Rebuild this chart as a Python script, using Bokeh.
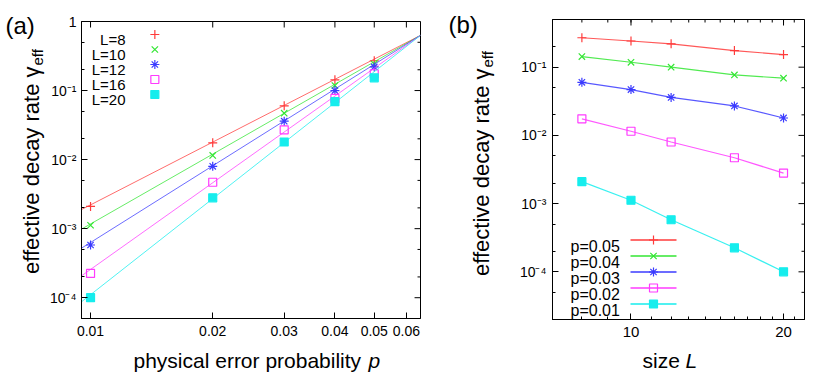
import numpy as np
from bokeh.plotting import figure
from bokeh.models import FixedTicker, Label, Range1d
from bokeh.layouts import row, column
from bokeh.embed import file_html
from bokeh.resources import INLINE

# ---------------- data ----------------
p_values = [0.01, 0.02, 0.03, 0.04, 0.05]
sizes = [8, 10, 12, 16, 20]
# effective decay rate for each system size L, at p = p_values
gamma_L8 = [0.0021, 0.0175, 0.060, 0.143, 0.270]
gamma_L10 = [0.00112, 0.0115, 0.047, 0.118, 0.242]
gamma_L12 = [0.00058, 0.0080, 0.036, 0.100, 0.220]
gamma_L16 = [0.000225, 0.0047, 0.027, 0.077, 0.175]
gamma_L20 = [0.000100, 0.0028, 0.018, 0.069, 0.153]
gamma_by_L = [gamma_L8, gamma_L10, gamma_L12, gamma_L16, gamma_L20]
# power-law fits (panel a): gamma = fit_gamma_cross * (p / fit_p_cross) ** exponent
fit_exponent = [3.02, 3.36, 3.69, 4.17, 4.62]
fit_p_cross = 0.065
fit_gamma_cross = 0.63

legend_L = ["L=8", "L=10", "L=12", "L=16", "L=20"]
p_order_b = [0.05, 0.04, 0.03, 0.02, 0.01]
legend_p = ["p=0.05", "p=0.04", "p=0.03", "p=0.02", "p=0.01"]

xa_ticks = [0.01, 0.02, 0.03, 0.04, 0.05, 0.06]
xa_labels = ["0.01", "0.02", "0.03", "0.04", "0.05", "0.06"]
ya_ticks = [1e-4, 1e-3, 1e-2, 1e-1, 1.0]
ya_labels = ["10\u207b\u2074", "10\u207b\u00b3", "10\u207b\u00b2", "10\u207b\u00b9", "1"]
xb_ticks = [10, 20]
xb_labels = ["10", "20"]
yb_ticks = [1e-4, 1e-3, 1e-2, 1e-1]
yb_labels = ["10\u207b\u2074", "10\u207b\u00b3", "10\u207b\u00b2", "10\u207b\u00b9"]

# ---------------- style ----------------
FONT = "Liberation Sans"
colors = ["#ff3b3b", "#33e633", "#3b3bff", "#ff3bff", "#16eded"]
markers = ["cross", "x", "asterisk", "square", "square"]
filled = [False, False, False, False, True]
msize = [9, 9, 9, 8, 8]

XA = (0.0095, 0.065)
YA = (5e-5, 1.0)
XB = (7.0, 22.0)
YB = (2e-5, 0.5)
ROW_H = 346
BOTTOM_H = 39


def minor_log(lo_exp, hi_exp, mults=(2, 5)):
    return [m * 10.0 ** e for e in range(lo_exp, hi_exp + 1) for m in mults]


def style_axis(ax, ticks, minor, labels, size, standoff):
    ax.ticker = FixedTicker(ticks=ticks, minor_ticks=minor)
    ax.major_tick_in = 6
    ax.major_tick_out = 0
    ax.minor_tick_in = 3
    ax.minor_tick_out = 0
    ax.axis_line_color = "black"
    ax.major_tick_line_color = "black"
    ax.minor_tick_line_color = "black"
    ax.axis_line_width = 1
    ax.major_label_overrides = {t: s for t, s in zip(ticks, labels)}
    ax.major_label_text_font = FONT
    ax.major_label_text_font_size = size
    ax.major_label_text_color = "black"
    ax.major_label_standoff = standoff


def make_fig(width, xr, yr, borders):
    l, r, t, b = borders
    f = figure(width=width, height=ROW_H, x_axis_type="log", y_axis_type="log",
               x_range=Range1d(*xr), y_range=Range1d(*yr), title=None,
               output_backend="svg", toolbar_location=None, frame_align=False,
               min_border_left=l, min_border_right=r,
               min_border_top=t, min_border_bottom=b)
    f.xgrid.visible = False
    f.ygrid.visible = False
    f.outline_line_color = "black"
    f.outline_line_width = 1
    f.background_fill_color = "white"
    f.border_fill_color = "white"
    return f


def make_strip(width, height):
    s = figure(width=width, height=height, x_range=Range1d(0, width), y_range=Range1d(0, height),
               title=None, output_backend="svg", toolbar_location=None, min_border=0,
               frame_align=False, x_axis_location=None, y_axis_location=None)
    s.xgrid.visible = False
    s.ygrid.visible = False
    s.outline_line_color = None
    s.background_fill_color = "white"
    s.border_fill_color = "white"
    return s


def lab(f, x, y, text, size, angle=0.0, align="left", baseline="alphabetic",
        style="normal", units="screen"):
    f.add_layout(Label(x=x, y=y, x_units=units, y_units=units, text=text,
                       text_font=FONT, text_font_size=size, text_color="black",
                       text_align=align, text_baseline=baseline, angle=angle,
                       text_font_style=style))


def slab(f, x, page_y, text, size, angle=0.0, align="left", style="normal"):
    # strip label: x in strip px, y given as px from the strip's top, centred vertically
    lab(f, x, f.height - page_y, text, size, angle=angle, align=align, baseline="middle",
        style=style, units="data")


def frac_log(rng, frac):
    lo, hi = np.log10(rng[0]), np.log10(rng[1])
    return 10 ** (lo + frac * (hi - lo))


def mirror_ticks(f, xr, yr, fw, fh, xt, xm, yt, ym):
    # inward ticks on the top and right edges (mirror of bottom / left axes)
    for ticks, ln in ((xt, 6), (xm, 3)):
        ticks = [t for t in ticks if xr[0] <= t <= xr[1]]
        if ticks:
            f.segment(ticks, [yr[1]] * len(ticks), ticks,
                      [frac_log(yr, 1 - ln / fh)] * len(ticks), line_color="black", line_width=1)
    for ticks, ln in ((yt, 6), (ym, 3)):
        ticks = [t for t in ticks if yr[0] <= t <= yr[1]]
        if ticks:
            f.segment([xr[1]] * len(ticks), ticks, [frac_log(xr, 1 - ln / fw)] * len(ticks),
                      ticks, line_color="black", line_width=1)


def draw_marker(f, xs, ys, i):
    kw = dict(marker=markers[i], size=msize[i], line_color=colors[i], line_width=1.2)
    kw["fill_color"] = colors[i] if filled[i] else None
    f.scatter(xs, ys, **kw)


# ---------------- panel (a) ----------------
fa = make_fig(380, XA, YA, (32, 6, 21, 28))
FWa, FHa = 342, 297
ya_minor = minor_log(-5, -1)
style_axis(fa.xaxis[0], xa_ticks, [], xa_labels, "14px", 7)
style_axis(fa.yaxis[0], ya_ticks, ya_minor, ya_labels, "14px", 5)
mirror_ticks(fa, XA, YA, FWa, FHa, xa_ticks, [], ya_ticks, ya_minor)

for i, L in enumerate(sizes):
    xs = np.array([XA[0], fit_p_cross])
    ys = fit_gamma_cross * (xs / fit_p_cross) ** fit_exponent[i]
    fa.line(xs, ys, line_color=colors[i], line_width=1, line_alpha=0.75)
    draw_marker(fa, p_values, gamma_by_L[i], i)

# legend (a): text right-aligned, marker to the right (frame-relative px)
for i, txt in enumerate(legend_L):
    yc = 13 + 15 * i
    lab(fa, 44, FHa - yc - 5, txt, "15px", align="right")
    draw_marker(fa, [frac_log(XA, 74 / FWa)], [frac_log(YA, (FHa - yc) / FHa)], i)

# ---------------- panel (b) ----------------
fb = make_fig(312, XB, YB, (46, 14, 19, 27))
FWb, FHb = 252, 300
yb_minor = minor_log(-5, -1)
xb_minor = list(range(7, 23))
style_axis(fb.xaxis[0], xb_ticks, xb_minor, xb_labels, "15px", 7)
style_axis(fb.yaxis[0], yb_ticks, yb_minor, yb_labels, "14px", 6)
mirror_ticks(fb, XB, YB, FWb, FHb, xb_ticks, xb_minor, yb_ticks, yb_minor)

for i, pv in enumerate(p_order_b):
    j = p_values.index(pv)
    ys = [g[j] for g in gamma_by_L]
    fb.line(sizes, ys, line_color=colors[i], line_width=1.2, line_alpha=0.85)
    draw_marker(fb, sizes, ys, i)

# legend (b): text, then line sample with marker (frame-relative px)
for i, txt in enumerate(legend_p):
    yc = 220.5 + 16 * i
    lab(fb, 18, FHb - yc - 6, txt, "16px")
    yv = frac_log(YB, (FHb - yc) / FHb)
    fb.line([frac_log(XB, 78 / FWb), frac_log(XB, 124 / FWb)], [yv, yv],
            line_color=colors[i], line_width=1.3, line_alpha=1.0)
    draw_marker(fb, [frac_log(XB, 101 / FWb)], [yv], i)

# ---------------- text strips (outside the plot frames) ----------------
YT = "effective decay rate \u03b3"
sa = make_strip(46, ROW_H)
slab(sa, 5, 25, "(a)", "24px")
slab(sa, 30.5, 66, YT, "22px", angle=np.pi / 2, align="right")
slab(sa, 36.5, 65, "eff", "15px", angle=np.pi / 2, align="left")

sb = make_strip(80, ROW_H)
slab(sb, 22, 24, "(b)", "24px")
slab(sb, 54.5, 68, YT, "22px", angle=np.pi / 2, align="right")
slab(sb, 60.5, 67, "eff", "15px", angle=np.pi / 2, align="left")

sbot = make_strip(818, BOTTOM_H)
slab(sbot, 133, 14, "physical error probability", "21px")
slab(sbot, 368, 14, "p", "21px", style="italic")
slab(sbot, 642, 14, "size", "21px")
slab(sbot, 685, 14, "L", "21px", style="italic")

layout = column(row(sa, fa, sb, fb), sbot)
open("out.html", "w").write(file_html(layout, INLINE))
